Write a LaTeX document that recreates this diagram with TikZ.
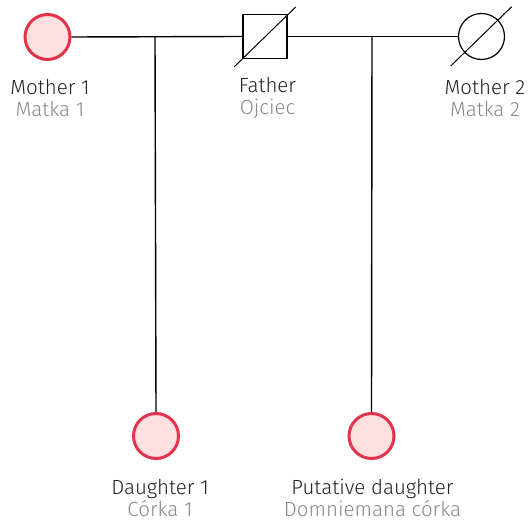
\documentclass[tikz,border=0pt]{standalone}
\usepackage{fontspec}
\setmainfont{Fira Sans Light}
\definecolor{redline}{HTML}{E3324B}
\definecolor{redfill}{HTML}{FCE1DE}
\definecolor{txt}{HTML}{222222}
\definecolor{sub}{HTML}{888888}
\begin{document}
\begin{tikzpicture}[x=1pt,y=-1pt,
  fem/.style={circle,draw=redline,fill=redfill,line width=3pt,minimum size=45pt,inner sep=0pt},
  femplain/.style={circle,draw=black,line width=1.2pt,minimum size=46pt,inner sep=0pt},
  male/.style={rectangle,draw=black,line width=1.2pt,minimum size=44pt,inner sep=0pt},
  lbl/.style={align=center,text=txt,font=\fontsize{20.5}{22}\selectfont,inner sep=0pt},
  conn/.style={draw=black,line width=1.4pt}]
\useasboundingbox (0,0) rectangle (528,521);
\node[fem] (m1) at (47.5,37) {};
\node[male] (f) at (265,36.5) {};
\node[femplain] (m2) at (481.5,36.5) {};
\node[fem] (d1) at (156,436) {};
\node[fem] (pd) at (371.5,436) {};
\coordinate (j1) at (155,37);
\coordinate (j2) at (372,37);
\draw[conn] (m1.east) -- (f.west);
\draw[conn] (f.east) -- (m2.west);
\draw[conn] (j1) -- (d1.north);
\draw[conn] (j2) -- (pd.north);
\coordinate (fa) at (234,67);
\coordinate (fb) at (295.7,7);
\draw[black,line width=1pt] (fa) -- (fb);
\coordinate (ma) at (450.7,66);
\coordinate (mb) at (511.7,6.7);
\draw[black,line width=1pt] (ma) -- (mb);
\node[lbl] (lm1) at (50,98) {Mother 1\\\textcolor{sub}{Matka 1}};
\node[lbl] (lf) at (267.5,98) {Father\\\textcolor{sub}{Ojciec}};
\node[lbl] (lm2) at (485,98) {Mother 2\\\textcolor{sub}{Matka 2}};
\node[lbl] (ld1) at (160,498) {Daughter 1\\\textcolor{sub}{Córka 1}};
\node[lbl] (lpd) at (372.5,498) {Putative daughter\\\textcolor{sub}{Domniemana córka}};
\end{tikzpicture}
\end{document}
